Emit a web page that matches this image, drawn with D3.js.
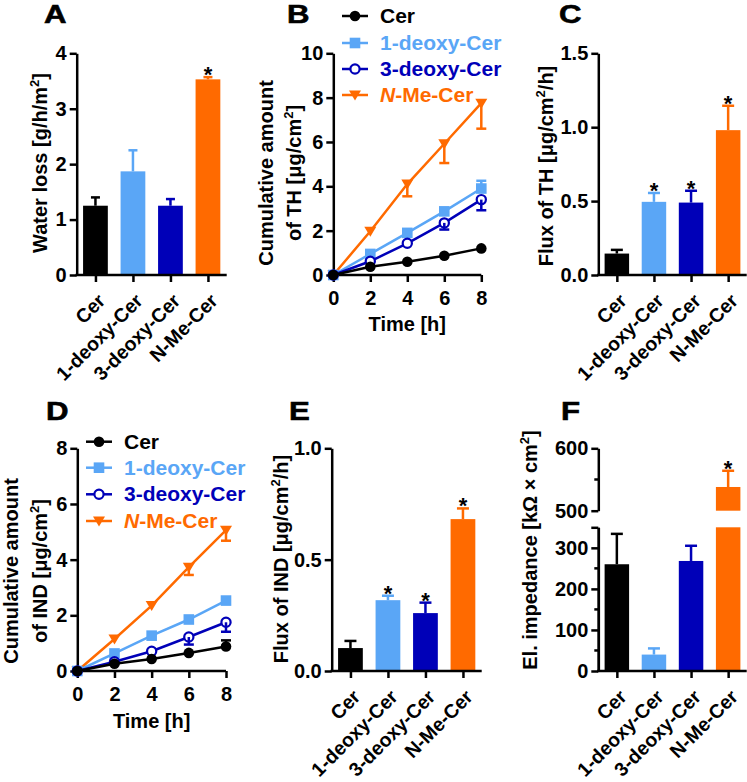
<!DOCTYPE html>
<html><head><meta charset="utf-8">
<script src="https://cdn.jsdelivr.net/npm/d3@7"></script>
<style>
body{margin:0;background:#fff}
svg{font-family:"Liberation Sans",Arial,sans-serif;font-weight:bold;display:block}
</style></head><body>
<svg id="c" width="747" height="782"></svg>
<script>
// ---------------- data ----------------
const categories = ["Cer", "1-deoxy-Cer", "3-deoxy-Cer", "N-Me-Cer"];
const seriesColors = ["#000000", "#5aa6f6", "#0000b8", "#ff6a00"];

// A: water loss (mean, top of error bar)
const waterLoss = [1.25, 1.87, 1.25, 3.53];
const waterLossErr = [1.40, 2.25, 1.37, 3.57];
const waterLossSig = [false, false, false, true];

// C: flux of TH
const fluxTH = [0.145, 0.495, 0.49, 0.98];
const fluxTHErr = [0.17, 0.555, 0.57, 1.145];
const fluxTHSig = [false, true, true, true];

// E: flux of IND
const fluxIND = [0.103, 0.318, 0.26, 0.682];
const fluxINDErr = [0.135, 0.338, 0.307, 0.73];
const fluxINDSig = [false, true, true, true];

// F: electrical impedance
const impedance = [260, 40, 268, 538];
const impedanceErr = [334, 55, 305, 564];
const impedanceSig = [false, false, false, true];

// B, D: time courses
const timeH = [0, 2, 4, 6, 8];
const thCer = [0, 0.37, 0.6, 0.87, 1.2];
const th1deoxy = [0, 0.95, 1.9, 2.87, 3.9];
const th3deoxy = [0, 0.62, 1.43, 2.35, 3.4];
const thNMe = [0, 1.97, 4.1, 5.92, 7.75];
const thCerErr = [null, null, null, null, null];
const th1deoxyErr = [null, null, null, null, 4.25];
const th3deoxyErr = [null, null, null, 2.05, 2.92];
const thNMeErr = [null, null, 3.55, 5.05, 6.6];

const indCer = [0, 0.26, 0.43, 0.65, 0.88];
const ind1deoxy = [0, 0.63, 1.27, 1.85, 2.53];
const ind3deoxy = [0, 0.33, 0.71, 1.22, 1.75];
const indNMe = [0, 1.15, 2.35, 3.73, 5.06];
const indCerErr = [null, null, null, null, 1.1];
const ind1deoxyErr = [null, null, null, null, null];
const ind3deoxyErr = [null, null, null, 0.95, 1.41];
const indNMeErr = [null, null, null, 3.45, 4.68];

const markerTypes = ["circleFilled", "square", "circleOpen", "triangleDown"];

// tick labels
const ticksA = [0, 1, 2, 3, 4];
const ticksB = [0, 2, 4, 6, 8, 10];
const ticksC = [0, 0.5, 1.0, 1.5];
const ticksD = [0, 2, 4, 6, 8];
const ticksE = [0, 0.5, 1.0];
const ticksFLow = [0, 100, 200, 300];
const ticksFHigh = [500, 600];

// ---------------- helpers ----------------
const svg = d3.select("#c");
const FS = 20;
const SW = 2.5;

function rich(textSel, parts) {
  let shift = 0;
  parts.forEach(p => {
    const ts = textSel.append("tspan").text(p.t);
    const want = p.sup ? -8 : 0;
    if (want !== shift) { ts.attr("dy", want - shift); shift = want; }
    if (p.sup) ts.attr("font-size", 13);
    if (p.it) ts.attr("font-style", "italic");
  });
}
function vTitle(lines, xs, cy) {
  lines.forEach((parts, i) => {
    const t = svg.append("text")
      .attr("transform", `translate(${xs[i]},${cy}) rotate(-90)`)
      .attr("text-anchor", "middle").attr("font-size", FS).attr("fill", "#000");
    rich(t, parts);
  });
}
function letter(ch, x, y) {
  svg.append("text").attr("transform", `translate(${x},${y}) scale(1.2,1)`)
    .attr("font-size", 26).attr("stroke", "#000").attr("stroke-width", 0.6).text(ch);
}
function styleAxis(g) {
  g.attr("font-size", null).attr("font-family", null);
  g.selectAll("path.domain").attr("stroke", "#000").attr("stroke-width", SW);
  g.selectAll(".tick line").attr("stroke", "#000").attr("stroke-width", SW);
  g.selectAll(".tick text").attr("fill", "#000").attr("font-size", FS);
}
function yAxis(scale, x, ticks, fmt, minor, minorLen) {
  const g = svg.append("g").attr("transform", `translate(${x},0)`)
    .call(d3.axisLeft(scale).tickValues(ticks).tickFormat(fmt).tickSize(7).tickSizeOuter(0).tickPadding(3));
  styleAxis(g);
  if (minor) {
    g.selectAll("line.minor").data(minor).join("line").attr("class", "minor")
      .attr("x1", -(minorLen || 4)).attr("x2", 0)
      .attr("y1", d => scale(d)).attr("y2", d => scale(d))
      .attr("stroke", "#000").attr("stroke-width", SW);
  }
  return g;
}
function catAxis(x, y0) {
  const g = svg.append("g").attr("transform", `translate(0,${y0})`)
    .call(d3.axisBottom(x).tickSize(7).tickSizeOuter(0).tickFormat(""));
  styleAxis(g);
  g.select("path.domain").attr("d", `M${x.range()[0] - 1.2},0H${x.range()[1]}`);
  categories.forEach(c => {
    svg.append("text")
      .attr("transform", `translate(${x(c) + 11},${y0 + 27}) rotate(-45)`)
      .attr("text-anchor", "end").attr("font-size", 19.5).text(c);
  });
}
function errBar(cx, yFrom, yTo, color, capW) {
  svg.append("line").attr("x1", cx).attr("x2", cx).attr("y1", yFrom).attr("y2", yTo)
    .attr("stroke", color).attr("stroke-width", SW);
  svg.append("line").attr("x1", cx - capW / 2).attr("x2", cx + capW / 2).attr("y1", yTo).attr("y2", yTo)
    .attr("stroke", color).attr("stroke-width", SW);
}
function star(cx, yTop) {
  svg.append("text").attr("x", cx).attr("y", yTop + 5).attr("text-anchor", "middle")
    .attr("font-size", 22).text("*");
}

function barPanel(o) {
  const y = d3.scaleLinear().domain([0, o.max]).range([o.y0, o.y1]);
  const x = d3.scalePoint().domain(categories).range([o.x0, o.x1]).padding(0.5);
  const bw = x.step() * 0.66;
  categories.forEach((c, i) => {
    const cx = x(c);
    errBar(cx, y(o.values[i]), y(o.errs[i]), seriesColors[i], o.capW);
    svg.append("rect").attr("x", cx - bw / 2).attr("width", bw)
      .attr("y", y(o.values[i])).attr("height", o.y0 - y(o.values[i]))
      .attr("fill", seriesColors[i]);
    if (o.sig[i]) star(cx, y(o.errs[i]));
  });
  yAxis(y, o.x0, o.ticks, o.fmt);
  catAxis(x, o.y0);
}

function marker(g, type, cx, cy, color) {
  if (type === "circleFilled") {
    g.append("circle").attr("cx", cx).attr("cy", cy).attr("r", 5.3).attr("fill", color);
  } else if (type === "square") {
    g.append("rect").attr("x", cx - 5.3).attr("y", cy - 5.3).attr("width", 10.6).attr("height", 10.6).attr("fill", color);
  } else if (type === "circleOpen") {
    g.append("circle").attr("cx", cx).attr("cy", cy).attr("r", 4.6).attr("fill", "#fff")
      .attr("stroke", color).attr("stroke-width", 2.2);
  } else {
    const s = 6;
    g.append("path").attr("d", `M${cx - s},${cy - 4.5}L${cx + s},${cy - 4.5}L${cx},${cy + 5.5}Z`).attr("fill", color);
  }
}

function linePanel(o) {
  const x = d3.scaleLinear().domain([0, 8]).range([o.x0, o.x1]);
  const y = d3.scaleLinear().domain([0, o.max]).range([o.y0, o.y1]);
  const line = d3.line().x(d => x(d[0])).y(d => y(d[1]));
  yAxis(y, o.x0, o.yticks, d3.format("d"));
  const gx = svg.append("g").attr("transform", `translate(0,${o.y0})`)
    .call(d3.axisBottom(x).tickValues(timeH).tickFormat(d3.format("d")).tickSize(7).tickSizeOuter(0).tickPadding(9));
  styleAxis(gx);
  gx.select("path.domain").attr("d", `M${o.x0 - 1.2},0H${o.x1}`);
  svg.append("text").attr("x", (o.x0 + o.x1) / 2).attr("y", o.y0 + o.titleDy)
    .attr("text-anchor", "middle").attr("font-size", FS).text("Time [h]");
  const order = [3, 1, 2, 0];
  order.forEach(si => {
    const g = svg.append("g");
    const vals = o.series[si], errs = o.errs[si], col = seriesColors[si];
    timeH.forEach((t, k) => {
      if (errs[k] != null) errBar(x(t), y(vals[k]), y(errs[k]), col, 10);
    });
    g.append("path").datum(timeH.map((t, k) => [t, vals[k]]))
      .attr("d", line).attr("fill", "none").attr("stroke", col).attr("stroke-width", SW);
    timeH.forEach((t, k) => marker(g, markerTypes[si], x(t), y(vals[k]), col));
  });
  categories.forEach((c, i) => {
    const ly = o.legY[i];
    const g = svg.append("g");
    g.append("line").attr("x1", o.legX).attr("x2", o.legX + 26).attr("y1", ly).attr("y2", ly)
      .attr("stroke", seriesColors[i]).attr("stroke-width", SW);
    marker(g, markerTypes[i], o.legX + 13, ly, seriesColors[i]);
    const t = svg.append("text").attr("x", o.legX + 38).attr("y", ly + 7)
      .attr("font-size", 21).attr("fill", seriesColors[i]);
    if (c === "N-Me-Cer") rich(t, [{ t: "N", it: true }, { t: "-Me-Cer" }]);
    else t.text(c);
  });
}

// ---------------- panel A ----------------
letter("A", 44, 23);
barPanel({ x0: 76.7, x1: 226.7, y0: 275, y1: 53.3, max: 4, ticks: ticksA, fmt: d3.format("d"),
  values: waterLoss, errs: waterLossErr, sig: waterLossSig, capW: 9 });
vTitle([[{ t: "Water loss [g/h/m" }, { t: "2", sup: true }, { t: "]" }]], [47], 163);

// ---------------- panel B ----------------
letter("B", 287, 23);
linePanel({ x0: 333.3, x1: 481.3, y0: 275, y1: 53.3, max: 10, yticks: ticksB, titleDy: 56,
  series: [thCer, th1deoxy, th3deoxy, thNMe], errs: [thCerErr, th1deoxyErr, th3deoxyErr, thNMeErr],
  legX: 342, legY: [16, 43, 69, 95] });
vTitle([[{ t: "Cumulative amount" }],
        [{ t: "of TH [μg/cm" }, { t: "2", sup: true }, { t: "]" }]], [272.5, 300.5], 173);

// ---------------- panel C ----------------
letter("C", 559, 23);
barPanel({ x0: 598.3, x1: 746.7, y0: 275, y1: 53.3, max: 1.5, ticks: ticksC, fmt: d3.format(".1f"),
  values: fluxTH, errs: fluxTHErr, sig: fluxTHSig, capW: 12 });
vTitle([[{ t: "Flux of TH [μg/cm" }, { t: "2", sup: true }, { t: "/h]" }]], [552.5], 166);

// ---------------- panel D ----------------
letter("D", 46, 420);
linePanel({ x0: 77.3, x1: 226, y0: 671, y1: 448.3, max: 8, yticks: ticksD, titleDy: 57,
  series: [indCer, ind1deoxy, ind3deoxy, indNMe], errs: [indCerErr, ind1deoxyErr, ind3deoxyErr, indNMeErr],
  legX: 86, legY: [441.7, 467.7, 494.3, 521] });
vTitle([[{ t: "Cumulative amount" }],
        [{ t: "of IND [μg/cm" }, { t: "2", sup: true }, { t: "]" }]], [17.5, 47], 571);

// ---------------- panel E ----------------
letter("E", 289, 420);
barPanel({ x0: 331.7, x1: 481.7, y0: 671, y1: 448.3, max: 1.0, ticks: ticksE, fmt: d3.format(".1f"),
  values: fluxIND, errs: fluxINDErr, sig: fluxINDSig, capW: 12 });
vTitle([[{ t: "Flux of IND [μg/cm" }, { t: "2", sup: true }, { t: "/h]" }]], [287.5], 559);

// ---------------- panel F (broken axis) ----------------
letter("F", 561, 420);
(function () {
  const x0 = 598.3, x1 = 746.7, y0 = 671;
  const yLow = d3.scaleLinear().domain([0, 350]).range([y0, 527.3]);
  const yHigh = d3.scaleLinear().domain([500, 600]).range([510.7, 448.3]);
  const yv = v => (v > 350 ? yHigh(v) : yLow(v));
  const x = d3.scalePoint().domain(categories).range([x0, x1]).padding(0.5);
  const bw = x.step() * 0.66;
  categories.forEach((c, i) => {
    const cx = x(c), v = impedance[i], col = seriesColors[i];
    errBar(cx, yv(v), yv(impedanceErr[i]), col, 12);
    if (v > 350) {
      svg.append("rect").attr("x", cx - bw / 2).attr("width", bw).attr("y", yLow(350))
        .attr("height", y0 - yLow(350)).attr("fill", col);
      svg.append("rect").attr("x", cx - bw / 2).attr("width", bw).attr("y", yHigh(v))
        .attr("height", yHigh(500) - yHigh(v)).attr("fill", col);
    } else {
      svg.append("rect").attr("x", cx - bw / 2).attr("width", bw).attr("y", yLow(v))
        .attr("height", y0 - yLow(v)).attr("fill", col);
    }
    if (impedanceSig[i]) star(cx, yv(impedanceErr[i]));
  });
  yAxis(yLow, x0, ticksFLow, d3.format("d"), [50, 150, 250], 4);
  yAxis(yLow, x0, [350], () => "");
  yAxis(yHigh, x0, ticksFHigh, d3.format("d"), [550], 4);
  catAxis(x, y0);
})();
vTitle([[{ t: "El. impedance [kΩ × cm" }, { t: "2", sup: true }, { t: "]" }]], [537], 550);
</script>
</body></html>
